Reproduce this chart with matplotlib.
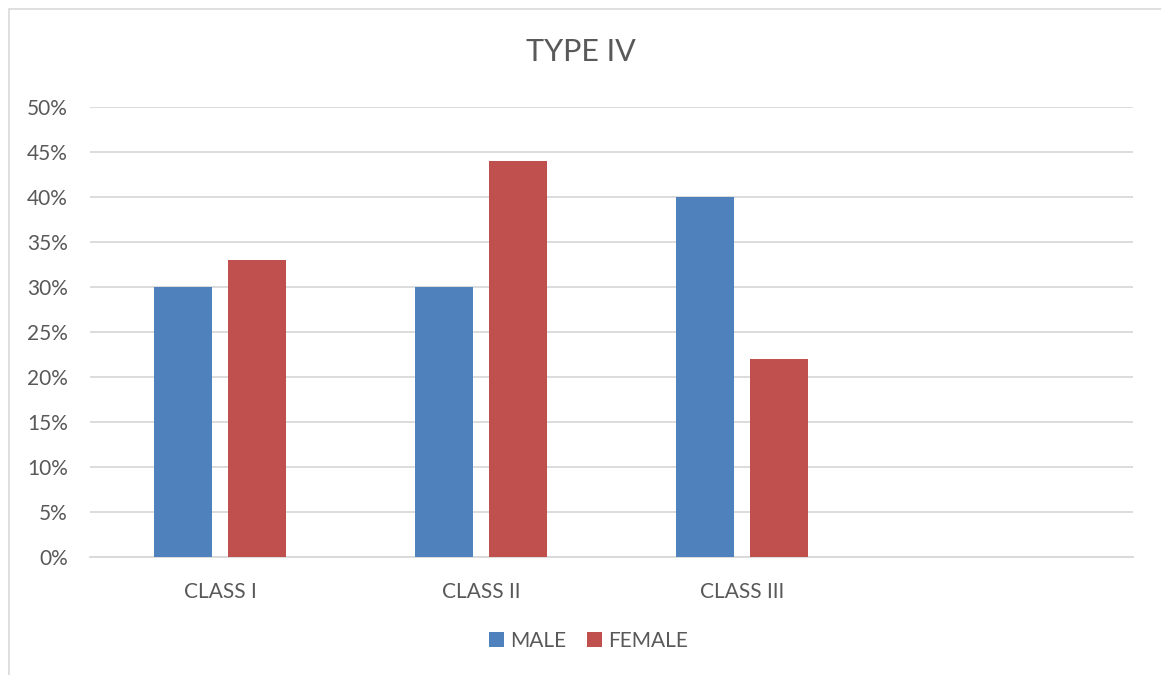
import numpy as np
import matplotlib.pyplot as plt
from matplotlib.patches import Rectangle

categories = ['CLASS I', 'CLASS II', 'CLASS III', '']
male = [0.30, 0.30, 0.40, 0]
female = [0.33, 0.44, 0.22, 0]
ticks = [0, 0.05, 0.10, 0.15, 0.20, 0.25, 0.30, 0.35, 0.40, 0.45, 0.50]

plt.rcParams['font.family'] = ['Lato', 'DejaVu Sans']
blue = '#4F81BD'
red = '#C0504D'
grey = '#595959'

fig = plt.figure(figsize=(11.61, 6.75), dpi=100)
# chart frame
fig.patches.append(Rectangle((9 / 1161, -0.1), 1.2, 1 - 9 / 675 + 0.1,
                             transform=fig.transFigure, fill=False,
                             edgecolor='#D9D9D9', linewidth=1.2))

ax = fig.add_axes([90 / 1161, 1 - 557 / 675, (1133 - 90) / 1161, (557 - 107) / 675])
x = np.arange(len(categories))
w = 0.222
ax.bar(x - 0.142, male, w, color=blue, label='MALE', zorder=3)
ax.bar(x + 0.142, female, w, color=red, label='FEMALE', zorder=3)

ax.set_xlim(-0.5, len(categories) - 0.5)
ax.set_ylim(0, 0.5)
ax.set_yticks(ticks)
ax.set_yticklabels([f'{int(round(t * 100))}%' for t in ticks])
ax.set_xticks(x)
ax.set_xticklabels(categories)
ax.yaxis.grid(True, color='#D9D9D9', linewidth=1.3, zorder=0)
ax.tick_params(length=0, labelsize=15, colors=grey)
ax.tick_params(axis='x', pad=18)
ax.tick_params(axis='y', pad=16)
for s in ['top', 'right', 'left']:
    ax.spines[s].set_visible(False)
ax.spines['bottom'].set_color('#D9D9D9')
ax.spines['bottom'].set_linewidth(1.3)

fig.text(0.5, 1 - 52 / 675, 'TYPE IV', ha='center', va='center', fontsize=22, color=grey)
fig.legend(loc='center', bbox_to_anchor=(0.507, 1 - 641 / 675), ncol=2, frameon=False,
           fontsize=15, labelcolor=grey, handlelength=0.7, handleheight=0.7,
           handletextpad=0.3, columnspacing=1.0)

fig.savefig('out.png', dpi=100)
